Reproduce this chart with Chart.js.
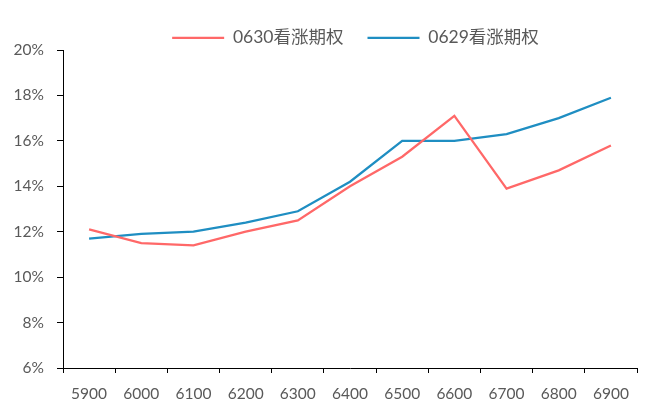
<!DOCTYPE html>
<html>
<head>
<meta charset="utf-8">
<script src="https://cdn.jsdelivr.net/npm/chart.js@4/dist/chart.umd.min.js"></script>
<style>
  html, body { margin: 0; padding: 0; background: #fff; }
  #wrap { width: 655px; height: 407px; }
</style>
</head>
<body>
<div id="wrap"><canvas id="c" width="655" height="407"></canvas></div>
<script>
// Strike prices
const strikes = ['5900', '6000', '6100', '6200', '6300', '6400', '6500', '6600', '6700', '6800', '6900'];
// Implied volatility (%) by strike
const iv0630 = [12.1, 11.5, 11.4, 12.0, 12.5, 14.0, 15.3, 17.1, 13.9, 14.7, 15.8];
const iv0629 = [11.7, 11.9, 12.0, 12.4, 12.9, 14.2, 16.0, 16.0, 16.3, 17.0, 17.9];
const seriesNames = ['0630看涨期权', '0629看涨期权'];
const yTicks = { min: 6, max: 20, step: 2 };

const textGray = '#595959';
const fontFamily = "Lato, 'Noto Sans CJK SC', sans-serif";

// Fixed-height legend strip, nudged right of the default centre
const legendPlacement = {
  id: 'legendPlacement',
  beforeInit(chart) {
    const origFit = chart.legend.fit;
    chart.legend.fit = function () {
      origFit.call(this);
      this.height = 45;
    };
  },
  afterLayout(chart) {
    chart.legend.left += 74;
  }
};

new Chart(document.getElementById('c'), {
  type: 'line',
  data: {
    labels: strikes,
    datasets: [
      { label: seriesNames[0], data: iv0630, borderColor: '#FF6868', backgroundColor: '#FF6868' },
      { label: seriesNames[1], data: iv0629, borderColor: '#1F8EC2', backgroundColor: '#1F8EC2' }
    ]
  },
  options: {
    responsive: false,
    animation: false,
    devicePixelRatio: 1,
    layout: { padding: { top: 5, right: 18, bottom: 0, left: 0 } },
    elements: {
      line: { borderWidth: 2.25, tension: 0 },
      point: { radius: 0, hoverRadius: 0, borderWidth: 2.25 }
    },
    plugins: {
      tooltip: { enabled: false },
      legend: {
        position: 'top',
        align: 'center',
        labels: {
          usePointStyle: true,
          pointStyle: 'line',
          pointStyleWidth: 52,
          padding: 24,
          color: textGray,
          font: { family: fontFamily, size: 17.5 }
        }
      }
    },
    scales: {
      x: {
        type: 'category',
        offset: true,
        afterFit(scale) { scale.height = 39; },
        border: { color: '#000', width: 1 },
        grid: {
          offset: true,
          drawOnChartArea: false,
          drawTicks: true,
          tickLength: 5,
          color: '#000',
          lineWidth: 1
        },
        ticks: {
          color: textGray,
          padding: 12,
          maxRotation: 0,
          autoSkip: false,
          font: { family: fontFamily, size: 15.5 }
        }
      },
      y: {
        min: yTicks.min,
        max: yTicks.max,
        afterFit(scale) { scale.width = 63; },
        border: { color: '#000', width: 1 },
        grid: {
          drawOnChartArea: false,
          drawTicks: true,
          tickLength: 6,
          color: '#000',
          lineWidth: 1
        },
        ticks: {
          stepSize: yTicks.step,
          color: textGray,
          padding: 13,
          font: { family: fontFamily, size: 15.5 },
          callback: v => v + '%'
        }
      }
    }
  },
  plugins: [legendPlacement]
});
</script>
</body>
</html>
